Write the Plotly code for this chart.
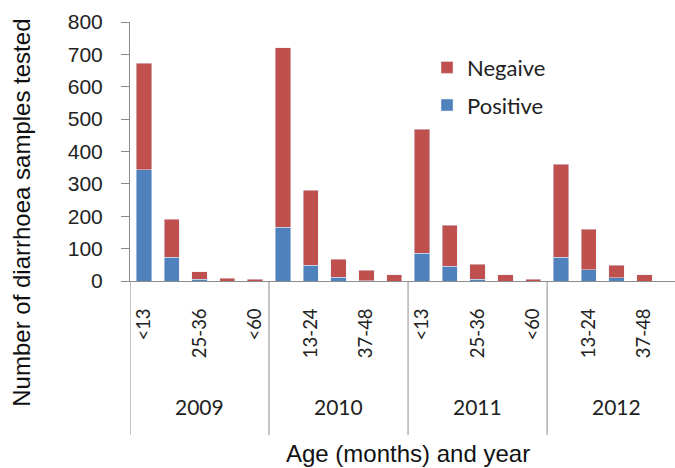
import plotly.graph_objects as go

# Diarrhoea samples tested by age group and year
years = ["2009", "2010", "2011", "2012"]
age_groups = ["<13", "13-24", "25-36", "37-48", "<60"]

positive = [343, 73, 5, 0, 0,
            166, 49, 11, 1, 0,
            86, 46, 5, 0, 0,
            74, 34, 10, 0, 0]
negative = [329, 117, 24, 9, 5,
            555, 232, 56, 32, 19,
            383, 126, 47, 19, 6,
            286, 126, 39, 19, 0]

n_groups = len(age_groups)
x_idx = list(range(len(years) * n_groups))
# Excel-style label skipping: every second category gets a label
tick_vals = x_idx[::2]
tick_text = [age_groups[i % n_groups] for i in tick_vals]

RED = "#C0504D"
BLUE = "#4F81BD"
GRID = "#8C8C8C"
AX_FONT = "Liberation Sans, Arial, sans-serif"
CAL_FONT = "Lato, Carlito, sans-serif"

fig = go.Figure()
fig.add_trace(go.Bar(x=x_idx, y=positive, name="Positive", marker_color=BLUE,
                     legendgroup="p", legendrank=2))
fig.add_trace(go.Bar(x=x_idx, y=negative, name="Negaive", marker_color=RED,
                     legendgroup="n", legendrank=1))

# group dividers extending below the axis
for g in range(len(years)):
    fig.add_shape(type="line", xref="x", yref="paper",
                  x0=g * n_groups - 0.5, x1=g * n_groups - 0.5,
                  y0=0, y1=-0.595, line=dict(color=GRID, width=1))
    fig.add_annotation(x=g * n_groups + (n_groups - 1) / 2, xref="x",
                       y=-0.483, yref="paper", text=years[g], showarrow=False,
                       font=dict(family=CAL_FONT, size=21, color="#222"),
                       xanchor="center", yanchor="middle")

fig.add_annotation(x=0.51, xref="paper", y=-0.665, yref="paper",
                   text="Age (months) and year", showarrow=False,
                   font=dict(family=AX_FONT, size=24, color="#111"),
                   xanchor="center", yanchor="middle")
fig.add_annotation(x=-0.198, xref="paper", y=0.264, yref="paper",
                   text="Number of diarrhoea samples tested", showarrow=False,
                   textangle=-90,
                   font=dict(family=AX_FONT, size=24, color="#111"),
                   xanchor="center", yanchor="middle")

fig.update_layout(
    width=675, height=468,
    margin=dict(l=130, r=0, t=22, b=187),
    barmode="stack", bargap=0.45,
    plot_bgcolor="white", paper_bgcolor="white",
    showlegend=True,
    legend=dict(x=0.545, y=0.905, xanchor="left", yanchor="top",
                traceorder="grouped", tracegroupgap=6,
                font=dict(family=CAL_FONT, size=22, color="#222"),
                bgcolor="rgba(0,0,0,0)"),
    xaxis=dict(range=[-0.5, 19.1], tickmode="array", tickvals=tick_vals,
               ticktext=tick_text, tickangle=-90, ticks="",
               ticklabelstandoff=19,
               tickfont=dict(family=CAL_FONT, size=18.5, color="#222"),
               showline=True, linecolor=GRID, linewidth=1,
               showgrid=False, zeroline=False),
    yaxis=dict(range=[0, 800], dtick=100, ticks="outside", ticklen=8,
               tickcolor=GRID, ticklabelstandoff=14,
               tickfont=dict(family=AX_FONT, size=21, color="#222"),
               showline=True, linecolor=GRID, linewidth=1,
               showgrid=False, zeroline=False),
)

fig.write_html("out.html")
